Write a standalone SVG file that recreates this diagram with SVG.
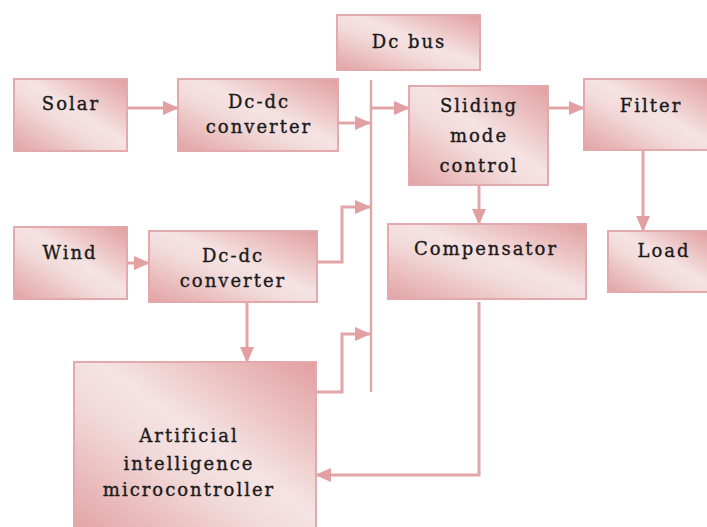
<svg xmlns="http://www.w3.org/2000/svg" width="707" height="527" viewBox="0 0 707 527">
  <defs>
    <linearGradient id="g" x1="1" y1="0" x2="0" y2="1">
      <stop offset="0" stop-color="#e29e9f"/>
      <stop offset="0.45" stop-color="#f5e3e3"/>
      <stop offset="0.6" stop-color="#f2dada"/>
      <stop offset="1" stop-color="#e3a2a3"/>
    </linearGradient>
    <marker id="ah" markerUnits="userSpaceOnUse" markerWidth="16" markerHeight="14" refX="15" refY="7" orient="auto">
      <path d="M0,0 L16,7 L0,14 Z" fill="#e3a0a3"/>
    </marker>
    <style>
      .box { fill: url(#g); stroke: #e2aaac; stroke-width: 2; }
      .t { font-family: "DejaVu Serif", "Liberation Serif", serif; font-size: 18px; fill: #1a1a1a; stroke: #1a1a1a; stroke-width: 0.35; text-anchor: middle; letter-spacing: 2px; }
      .ln { fill: none; stroke: #e3a6a8; stroke-width: 3; }
      .bus { fill: none; stroke: #dba8ab; stroke-width: 2.5; }
    </style>
  </defs>

  <g id="connectors">
    <line class="bus" x1="371" y1="80" x2="371" y2="392"/>
    <line class="ln" x1="127" y1="108" x2="178" y2="108" marker-end="url(#ah)"/>
    <line class="ln" x1="338" y1="123" x2="370" y2="123" marker-end="url(#ah)"/>
    <line class="ln" x1="372" y1="108" x2="409" y2="108" marker-end="url(#ah)"/>
    <line class="ln" x1="548" y1="108" x2="584" y2="108" marker-end="url(#ah)"/>
    <line class="ln" x1="127" y1="263" x2="149" y2="263" marker-end="url(#ah)"/>
    <polyline class="ln" points="317,262 342,262 342,207 370,207" marker-end="url(#ah)"/>
    <polyline class="ln" points="316,392 342,392 342,334 370,334" marker-end="url(#ah)"/>
    <line class="ln" x1="247" y1="302" x2="247" y2="362" marker-end="url(#ah)"/>
    <line class="ln" x1="479" y1="185" x2="479" y2="224" marker-end="url(#ah)"/>
    <line class="ln" x1="643" y1="151" x2="643" y2="231" marker-end="url(#ah)"/>
    <polyline class="ln" points="479,302 479,475 316,475" marker-end="url(#ah)"/>
  </g>

  <g id="dcbus">
    <rect class="box" x="337" y="15" width="143" height="55"/>
    <text class="t" x="409" y="48">Dc bus</text>
  </g>
  <g id="solar">
    <rect class="box" x="14" y="79" width="113" height="72"/>
    <text class="t" x="71" y="110">Solar</text>
  </g>
  <g id="conv1">
    <rect class="box" x="178" y="79" width="160" height="72"/>
    <text class="t" x="259" y="108">Dc-dc</text>
    <text class="t" x="259" y="133">converter</text>
  </g>
  <g id="sliding">
    <rect class="box" x="409" y="86" width="139" height="99"/>
    <text class="t" x="479" y="112">Sliding</text>
    <text class="t" x="479" y="142">mode</text>
    <text class="t" x="479" y="172">control</text>
  </g>
  <g id="filter">
    <rect class="box" x="584" y="79" width="126" height="71"/>
    <text class="t" x="651" y="112">Filter</text>
  </g>
  <g id="wind">
    <rect class="box" x="14" y="227" width="113" height="72"/>
    <text class="t" x="70" y="259">Wind</text>
  </g>
  <g id="conv2">
    <rect class="box" x="149" y="231" width="168" height="71"/>
    <text class="t" x="233" y="262">Dc-dc</text>
    <text class="t" x="233" y="287">converter</text>
  </g>
  <g id="compensator">
    <rect class="box" x="388" y="224" width="198" height="75"/>
    <text class="t" x="486" y="255">Compensator</text>
  </g>
  <g id="load">
    <rect class="box" x="608" y="231" width="102" height="61"/>
    <text class="t" x="664" y="257">Load</text>
  </g>
  <g id="ai">
    <rect class="box" x="74" y="362" width="242" height="170"/>
    <text class="t" x="189" y="442">Artificial</text>
    <text class="t" x="189" y="470">intelligence</text>
    <text class="t" x="189" y="496">microcontroller</text>
  </g>
</svg>
